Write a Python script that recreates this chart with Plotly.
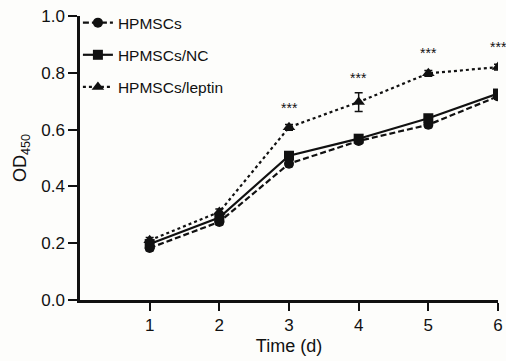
import plotly.graph_objects as go

days = [1, 2, 3, 4, 5, 6]
hpmscs = [0.183, 0.275, 0.48, 0.56, 0.617, 0.717]
hpmscs_err = [0.01, 0.01, 0.01, 0.01, 0.01, 0.01]
hpmscs_nc = [0.197, 0.29, 0.508, 0.568, 0.64, 0.727]
hpmscs_nc_err = [0.01, 0.01, 0.01, 0.01, 0.01, 0.01]
hpmscs_leptin = [0.21, 0.31, 0.608, 0.697, 0.798, 0.82]
hpmscs_leptin_err = [0.01, 0.01, 0.01, 0.033, 0.01, 0.01]
sig_days = [3, 4, 5, 6]
sig_labels = ["***", "***", "***", "***"]
sig_y = [0.675, 0.78, 0.87, 0.89]
x_ticks = [1, 2, 3, 4, 5, 6]
y_ticks = [0.0, 0.2, 0.4, 0.6, 0.8, 1.0]

FONT = "Liberation Sans, Arial, sans-serif"
INK = "#111111"

fig = go.Figure()

series = [
    ("HPMSCs", hpmscs, hpmscs_err, "circle", 10, "6px,3px"),
    ("HPMSCs/NC", hpmscs_nc, hpmscs_nc_err, "square", 10, "solid"),
    ("HPMSCs/leptin", hpmscs_leptin, hpmscs_leptin_err, "triangle-up", 11, "3px,3px"),
]
for name, vals, err, sym, msize, dash in series:
    fig.add_trace(go.Scatter(
        x=days, y=vals, name=name, mode="lines+markers",
        legendgroup=name,
        line=dict(color=INK, width=2.2, dash=dash),
        marker=dict(symbol=sym, size=msize, color=INK),
        error_y=dict(type="data", array=err, visible=True, color=INK,
                     thickness=1.5, width=4),
    ))

for d, lab, yy in zip(sig_days, sig_labels, sig_y):
    fig.add_annotation(x=d, y=yy, text=lab, showarrow=False,
                       font=dict(size=14, color=INK, family=FONT))

fig.update_layout(
    width=506, height=361,
    margin=dict(l=80, r=8, t=16, b=61, autoexpand=False),
    paper_bgcolor="#fdfdfb", plot_bgcolor="#fdfdfb",
    font=dict(family=FONT, size=17, color=INK),
    showlegend=True,
    legend=dict(x=-0.005, y=1.035, xanchor="left", yanchor="top",
                bgcolor="rgba(0,0,0,0)", font=dict(size=15.5, family=FONT),
                tracegroupgap=9, itemwidth=30),
    xaxis=dict(range=[0, 6], tickvals=x_ticks, ticks="outside", ticklen=8,
               tickwidth=2, tickcolor=INK, showline=True, linewidth=2.5,
               linecolor=INK, showgrid=False, zeroline=False, automargin=False,
               title=dict(text="Time (d)", font=dict(size=18), standoff=6),
               tickfont=dict(size=17)),
    yaxis=dict(range=[0, 1.0], tickvals=y_ticks, tickformat=".1f",
               ticks="outside", ticklen=9, tickwidth=2, tickcolor=INK,
               showline=True, linewidth=2.5, linecolor=INK, automargin=False,
               showgrid=False, zeroline=False,
               title=dict(text="OD<sub>450</sub>", font=dict(size=18), standoff=10),
               tickfont=dict(size=17)),
)

fig.write_html(
    "out.html",
    config={"displayModeBar": False},
    post_script="document.body.style.margin='0';document.body.style.overflow='hidden';",
)
